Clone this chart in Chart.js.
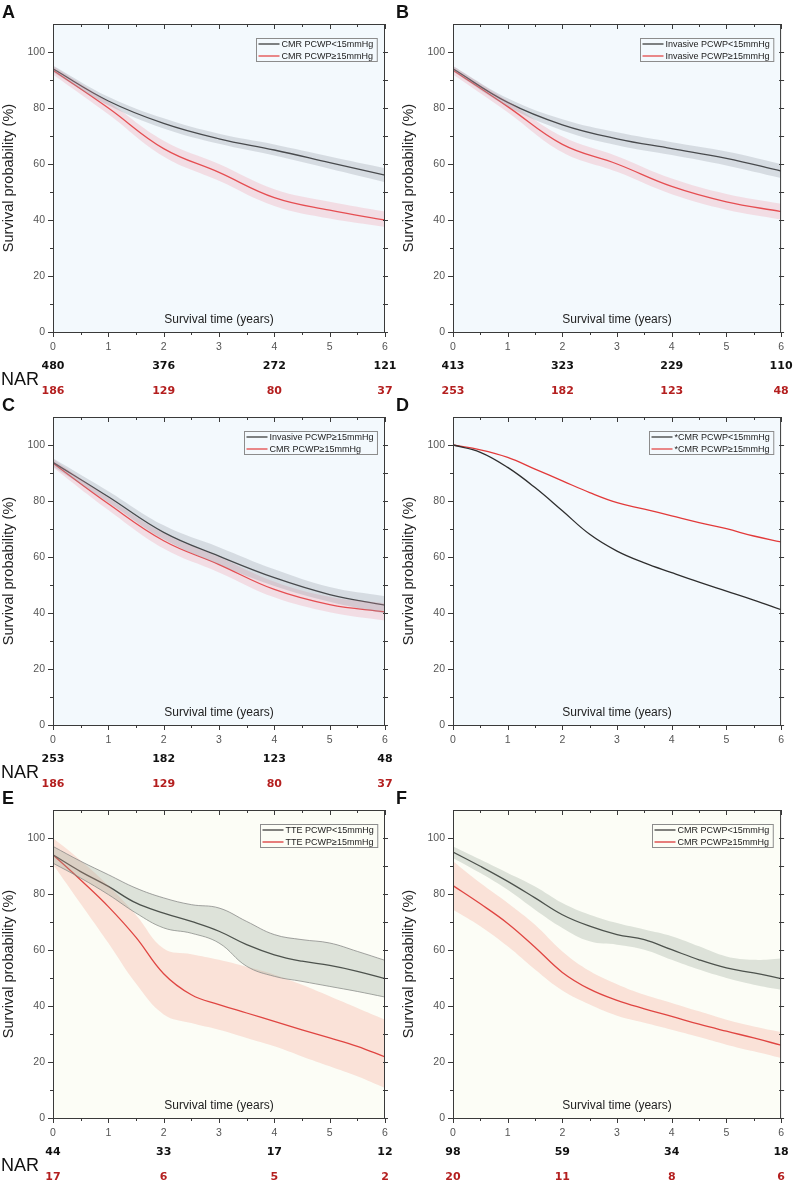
<!DOCTYPE html>
<html>
<head>
<meta charset="utf-8">
<script src="https://cdn.jsdelivr.net/npm/chart.js@4.4.1/dist/chart.umd.min.js"></script>
<style>
  body { margin: 0; background: #fff; }
  #fig { position: relative; width: 793px; height: 1183px; overflow: hidden; }
  #fig canvas { position: absolute; }
</style>
</head>
<body>
<div id="fig">
  <canvas id="chartA" width="400" height="397" style="left:0;top:0"></canvas>
  <canvas id="chartB" width="403" height="397" style="left:390px;top:0"></canvas>
  <canvas id="chartC" width="400" height="397" style="left:0;top:393px"></canvas>
  <canvas id="chartD" width="403" height="397" style="left:390px;top:393px"></canvas>
  <canvas id="chartE" width="400" height="397" style="left:0;top:786px"></canvas>
  <canvas id="chartF" width="403" height="397" style="left:390px;top:786px"></canvas>
</div>
<script>
// time points (years)
const years = [0, 1, 2, 3, 4, 5, 6];
const halfYears = [0, 0.5, 1, 1.5, 2, 2.5, 3, 3.5, 4, 4.5, 5, 5.5, 6];
const narYears = [0, 2, 4, 6];
const xTickMarks = [0, 0.5, 1, 1.5, 2, 2.5, 3, 3.5, 4, 4.5, 5, 5.5, 6];
const yTickMarks = [0, 10, 20, 30, 40, 50, 60, 70, 80, 90, 100];

// A: CMR
const aLow = [94, 82.5, 74.5, 69, 65, 60.5, 56];
const aLowHi = [95.2, 84, 76.3, 70.8, 67, 62.7, 58.5];
const aLowLo = [92.8, 81, 72.7, 67.2, 63, 58.3, 53.5];
const aHigh = [93.5, 80, 65.5, 57, 48, 43.5, 40];
const aHighHi = [95, 82.2, 68.3, 60, 51, 46.5, 43];
const aHighLo = [92, 77.8, 62.7, 54, 45, 40.5, 37.5];
const aNarLow = [480, 376, 272, 121];
const aNarHigh = [186, 129, 80, 37];

// B: invasive
const bLow = [94, 82, 74, 69, 65.5, 62, 57.5];
const bLowHi = [95, 83.5, 76, 71.3, 67.8, 64.5, 60];
const bLowLo = [93, 80.5, 72, 66.7, 63.2, 59.5, 55];
const bHigh = [93.5, 80.5, 67, 60, 52, 46.5, 43];
const bHighHi = [95, 82.5, 69.8, 62.8, 54.8, 49.3, 45.8];
const bHighLo = [92, 78.5, 64.2, 57.2, 49.2, 43.7, 40.2];
const bNarLow = [413, 323, 229, 110];
const bNarHigh = [253, 182, 123, 48];

// C: invasive vs CMR, both >=15
const cInv = [93.8, 81.5, 68.8, 60.3, 52.6, 46.6, 42.8];
const cInvHi = [95.3, 83.5, 71.3, 63.5, 55.6, 49.3, 46];
const cInvLo = [92.3, 79.5, 66.3, 57.3, 49.6, 44, 39.8];
const cCmr = [93.5, 79, 65.8, 57.3, 48.4, 43, 40.4];
const cCmrHi = [95, 81.2, 68.5, 60, 51.2, 45.8, 43.5];
const cCmrLo = [92, 76.8, 63, 54.5, 45.6, 40.3, 37.3];
const cNarInv = [253, 182, 123, 48];
const cNarCmr = [186, 129, 80, 37];

// D: adjusted CMR
const dLow = [100, 97.4, 92, 84.8, 76.5, 68.1, 62.1, 57.9, 54.4, 51, 47.8, 44.6, 41.2];
const dHigh = [100, 98.3, 95.6, 91.4, 87.2, 83, 79.4, 77.1, 74.7, 72.3, 70.1, 67.5, 65.4];

// E: TTE
const eLow = [94, 88, 82.7, 76.8, 73.2, 70.2, 66.7, 61.9, 58.3, 56, 54.5, 52.4, 49.8];
const eLowHi = [97, 91.7, 86.9, 82.1, 78.6, 76.2, 75, 70.2, 65.5, 63.7, 62.5, 59.5, 56.3];
const eLowLo = [91, 85.7, 79.8, 73.2, 67.9, 66, 62.5, 54.2, 50.6, 48.8, 47, 45.2, 43.2];
const eHigh = [94, 85, 75.5, 64.5, 51.5, 44, 40.5, 37.5, 34.5, 31.5, 28.6, 25.6, 21.8];
const eHighHi = [100, 92, 83, 72.5, 60.5, 58.5, 56.5, 54, 51.2, 47.6, 43.5, 39.3, 35.1];
const eHighLo = [90.5, 76.5, 62.5, 48, 37, 33.9, 31.5, 28.6, 25.6, 22, 18.5, 14.9, 10.7];
const eNarLow = [44, 33, 17, 12];
const eNarHigh = [17, 6, 5, 2];

// F: CMR subgroup
const fLow = [95, 89.9, 84.5, 78.6, 72.6, 68.5, 65.5, 63.7, 60.1, 56.5, 53.6, 51.8, 49.8];
const fLowHi = [97, 92.3, 87.5, 82.7, 76.8, 72.6, 69.6, 67.3, 64.9, 61.3, 57.7, 56.5, 57];
const fLowLo = [92.9, 87.5, 81.5, 74.4, 67.9, 63.1, 61.9, 60.1, 56.5, 53, 50, 47.6, 45.8];
const fHigh = [83, 76.5, 69.5, 61, 52, 46, 42, 39, 36.3, 33.5, 31, 28.6, 26];
const fHighHi = [91.7, 83.9, 76.8, 69, 59.5, 52.5, 47.8, 44, 41.1, 38.1, 35.1, 32.7, 30.7];
const fHighLo = [74.4, 68.5, 61.3, 53, 45.5, 40.5, 36.5, 34, 31.5, 28.9, 26.2, 23.8, 21.4];
const fNarLow = [98, 59, 34, 18];
const fNarHigh = [20, 11, 8, 6];

const FONT = '"Liberation Sans", Arial, sans-serif';
const blueBg = '#f3f9fd';
const creamBg = '#fcfdf6';

function pts(xs, ys) {
    return xs.map((x, i) => ({ x: x, y: ys[i] }));
}

function line(label, xs, ys, color) {
    return {
        legendLabel: label,
        data: pts(xs, ys),
        borderColor: color,
        borderWidth: 1.3,
        fill: false,
        tension: 0.4
    };
}

function band(xs, hi, lo, color, edge) {
    return [{
        data: pts(xs, hi),
        fill: '+1',
        backgroundColor: color,
        borderColor: edge || 'rgba(0,0,0,0)',
        borderWidth: edge ? 0.7 : 0,
        tension: 0.4
    }, {
        data: pts(xs, lo),
        fill: false,
        borderColor: edge || 'rgba(0,0,0,0)',
        borderWidth: edge ? 0.7 : 0,
        tension: 0.4
    }];
}

const kmDecor = {
    id: 'kmDecor',
    beforeDatasetsDraw(chart, args, o) {
        const { ctx, chartArea: a } = chart;
        ctx.save();
        ctx.fillStyle = o.bg;
        ctx.fillRect(a.left, a.top, a.right - a.left, a.bottom - a.top);
        ctx.restore();
    },
    afterDraw(chart, args, o) {
        const { ctx, chartArea: a, scales: { x, y } } = chart;
        ctx.save();

        // frame and tick marks
        ctx.strokeStyle = '#3a3a3a';
        ctx.lineWidth = 1;
        ctx.strokeRect(a.left + 0.5, a.top + 0.5, a.right - a.left - 1, a.bottom - a.top);
        ctx.beginPath();
        xTickMarks.forEach(v => {
            const px = Math.round(x.getPixelForValue(v)) + 0.5;
            const len = Number.isInteger(v) ? 5 : 3;
            ctx.moveTo(px, a.bottom); ctx.lineTo(px, a.bottom + len);
            ctx.moveTo(px, a.top); ctx.lineTo(px, a.top + len);
        });
        yTickMarks.forEach(v => {
            const py = Math.round(y.getPixelForValue(v)) + 0.5;
            const len = v % 20 === 0 ? 5 : 3;
            ctx.moveTo(a.left - len, py); ctx.lineTo(a.left, py);
            ctx.moveTo(a.right - 2, py); ctx.lineTo(a.right + 3, py);
        });
        ctx.stroke();

        // x axis caption inside the plot
        ctx.fillStyle = '#222';
        ctx.font = '12px ' + FONT;
        ctx.textAlign = 'center';
        ctx.textBaseline = 'middle';
        ctx.fillText('Survival time (years)', (a.left + a.right) / 2, a.bottom - 12);

        // legend box
        const entries = chart.data.datasets.filter(d => d.legendLabel);
        ctx.font = '9px ' + FONT;
        const tw = Math.max(...entries.map(d => ctx.measureText(d.legendLabel).width));
        const lineLen = 21;
        const boxW = lineLen + tw + 8;
        const boxH = entries.length * 12 - 1;
        const bx = Math.round(a.right - 8 - boxW) + 0.5;
        const by = Math.round(a.top + 14) + 0.5;
        ctx.fillStyle = o.bg;
        ctx.fillRect(bx, by, boxW, boxH);
        ctx.strokeStyle = '#8c8c8c';
        ctx.strokeRect(bx, by, boxW, boxH);
        ctx.textAlign = 'left';
        entries.forEach((d, i) => {
            const cy = by + 5.5 + 12 * i;
            ctx.strokeStyle = d.borderColor;
            ctx.lineWidth = 1.2;
            ctx.beginPath();
            ctx.moveTo(bx + 2, cy); ctx.lineTo(bx + 2 + lineLen, cy);
            ctx.stroke();
            ctx.fillStyle = '#222';
            ctx.fillText(d.legendLabel, bx + lineLen + 4, cy + 0.5);
        });

        // numbers at risk
        if (o.narLow) {
            ctx.font = 'bold 11px "DejaVu Sans", sans-serif';
            ctx.textAlign = 'center';
            o.narLow.forEach((n, i) => {
                ctx.fillStyle = '#111';
                ctx.fillText(String(n), x.getPixelForValue(narYears[i]), a.bottom + 34);
            });
            o.narHigh.forEach((n, i) => {
                ctx.fillStyle = '#b41f1f';
                ctx.fillText(String(n), x.getPixelForValue(narYears[i]), a.bottom + 59);
            });
            if (o.narLabel) {
                ctx.fillStyle = '#111';
                ctx.font = '18px ' + FONT;
                ctx.textAlign = 'left';
                ctx.fillText('NAR', 1, a.bottom + 48);
            }
        }

        // panel letter
        ctx.fillStyle = '#111';
        ctx.font = 'bold 18px ' + FONT;
        ctx.textAlign = 'left';
        ctx.fillText(o.letter, o.letterX, 13);
        ctx.restore();
    }
};

function kmChart(id, datasets, deco, padLeft, padRight) {
    return new Chart(document.getElementById(id), {
        type: 'line',
        data: { datasets: datasets },
        options: {
            responsive: false,
            animation: false,
            layout: { padding: { left: padLeft, top: 24, right: padRight, bottom: 35 } },
            elements: { point: { radius: 0 } },
            plugins: {
                legend: { display: false },
                tooltip: { enabled: false },
                kmDecor: deco
            },
            scales: {
                x: {
                    type: 'linear',
                    min: 0,
                    max: 6,
                    grid: { display: false, drawTicks: false },
                    border: { display: false },
                    ticks: { stepSize: 1, padding: 9, color: '#555', font: { family: FONT, size: 10.5 } },
                    afterFit: s => { s.height = 30; }
                },
                y: {
                    min: 0,
                    max: 110,
                    grid: { display: false, drawTicks: false },
                    border: { display: false },
                    ticks: { stepSize: 20, includeBounds: false, padding: 8, color: '#555', font: { family: FONT, size: 10.5 } },
                    title: { display: true, text: 'Survival probability (%)', padding: 0, color: '#222', font: { family: FONT, size: 14.5 } },
                    afterFit: s => { s.width = 53; }
                }
            }
        },
        plugins: [kmDecor]
    });
}

const greyBand = 'rgba(140, 148, 158, 0.28)';
const pinkBand = 'rgba(240, 140, 155, 0.25)';
const greyBandE = 'rgba(150, 165, 150, 0.3)';
const pinkBandE = 'rgba(245, 150, 130, 0.26)';
const blackLine = '#2e2e2e';
const redLine = '#e23a3a';
const redLineE = '#d9292b';

kmChart('chartA', [
    ...band(years, aLowHi, aLowLo, greyBand),
    ...band(years, aHighHi, aHighLo, pinkBand),
    line('CMR PCWP<15mmHg', years, aLow, blackLine),
    line('CMR PCWP\u226515mmHg', years, aHigh, redLine)
], { bg: blueBg, narLow: aNarLow, narHigh: aNarHigh, narLabel: true, letter: 'A', letterX: 2 }, 0, 15);

kmChart('chartB', [
    ...band(years, bLowHi, bLowLo, greyBand),
    ...band(years, bHighHi, bHighLo, pinkBand),
    line('Invasive PCWP<15mmHg', years, bLow, blackLine),
    line('Invasive PCWP\u226515mmHg', years, bHigh, redLine)
], { bg: blueBg, narLow: bNarLow, narHigh: bNarHigh, narLabel: false, letter: 'B', letterX: 6 }, 10, 9);

kmChart('chartC', [
    ...band(years, cInvHi, cInvLo, greyBand),
    ...band(years, cCmrHi, cCmrLo, pinkBand),
    line('Invasive PCWP\u226515mmHg', years, cInv, blackLine),
    line('CMR PCWP\u226515mmHg', years, cCmr, redLine)
], { bg: blueBg, narLow: cNarInv, narHigh: cNarCmr, narLabel: true, letter: 'C', letterX: 2 }, 0, 15);

kmChart('chartD', [
    line('*CMR PCWP<15mmHg', halfYears, dLow, blackLine),
    line('*CMR PCWP\u226515mmHg', halfYears, dHigh, redLine)
], { bg: blueBg, narLow: null, narHigh: null, narLabel: false, letter: 'D', letterX: 6 }, 10, 9);

kmChart('chartE', [
    ...band(halfYears, eLowHi, eLowLo, greyBandE, '#7d7d7d'),
    ...band(halfYears, eHighHi, eHighLo, pinkBandE),
    line('TTE PCWP<15mmHg', halfYears, eLow, blackLine),
    line('TTE PCWP\u226515mmHg', halfYears, eHigh, redLineE)
], { bg: creamBg, narLow: eNarLow, narHigh: eNarHigh, narLabel: true, letter: 'E', letterX: 2 }, 0, 15);

kmChart('chartF', [
    ...band(halfYears, fLowHi, fLowLo, greyBandE),
    ...band(halfYears, fHighHi, fHighLo, pinkBandE),
    line('CMR PCWP<15mmHg', halfYears, fLow, blackLine),
    line('CMR PCWP\u226515mmHg', halfYears, fHigh, redLineE)
], { bg: creamBg, narLow: fNarLow, narHigh: fNarHigh, narLabel: false, letter: 'F', letterX: 6 }, 10, 9);
</script>
</body>
</html>
